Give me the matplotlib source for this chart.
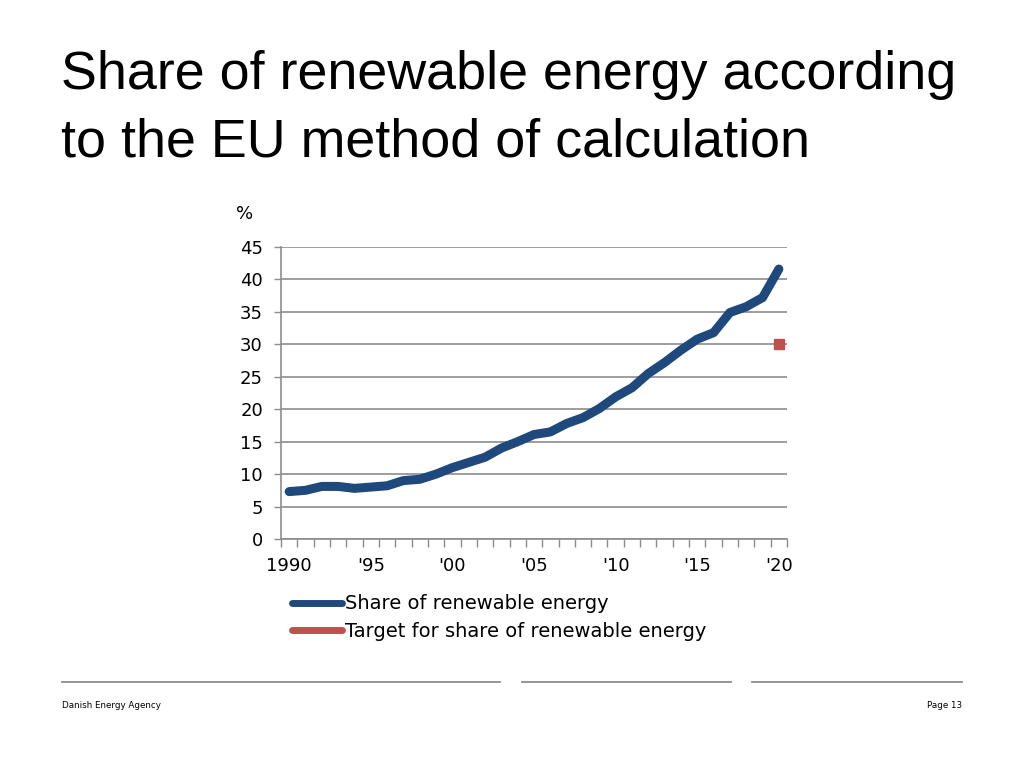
import matplotlib.pyplot as plt
from matplotlib.lines import Line2D
import numpy as np

# data
years = list(range(1990, 2021))
share = [7.3, 7.5, 8.1, 8.1, 7.8, 8.0, 8.2, 9.0, 9.2, 10.0,
         11.0, 11.8, 12.6, 14.0, 15.0, 16.1, 16.5, 17.8, 18.7, 20.1,
         21.9, 23.3, 25.5, 27.2, 29.1, 30.8, 31.8, 34.9, 35.8, 37.2,
         41.6]
target_year = [2020]
target = [30]
tick_years = [1990, 1995, 2000, 2005, 2010, 2015, 2020]
tick_labels = ["1990", "'95", "'00", "'05", "'10", "'15", "'20"]

blue = "#1F497D"
red = "#C0504D"
grey = "#8C8C8C"

fig = plt.figure(figsize=(10.24, 7.68), dpi=100)

# slide title
fig.text(0.060, 0.902, "Share of renewable energy according", fontsize=38.8,
         family="Liberation Sans", va="center", ha="left")
fig.text(0.060, 0.815, "to the EU method of calculation", fontsize=38.8,
         family="Liberation Sans", va="center", ha="left")

ax = fig.add_axes([0.2744, 0.2982, 0.4942, 0.3802])
ax.plot(years, share, color=blue, lw=6.5, solid_capstyle="round",
        solid_joinstyle="round")
ax.plot(target_year, target, ls="none", marker="s", ms=7, color=red)

ax.set_xlim(1989.5, 2020.5)
ax.set_ylim(0, 45)
ax.set_yticks(np.arange(0, 46, 5))
ax.yaxis.grid(True, color=grey, lw=1.2)
ax.set_axisbelow(True)

ax.set_xticks(tick_years)
ax.set_xticklabels(tick_labels)
ax.set_xticks(np.arange(1989.5, 2021, 1), minor=True)
ax.tick_params(axis="x", which="major", length=0, pad=13, labelsize=13)
ax.tick_params(axis="x", which="minor", length=6, width=1, color=grey, direction="out")
ax.tick_params(axis="y", length=5, width=1, color=grey, pad=8, labelsize=13)

for s in ["top", "right"]:
    ax.spines[s].set_visible(False)
for s in ["left", "bottom"]:
    ax.spines[s].set_color(grey)
    ax.spines[s].set_linewidth(1.2)

fig.text(0.2305, 0.722, "%", fontsize=13, ha="left", va="center")

handles = [Line2D([], [], color=blue, lw=5, solid_capstyle="round"),
           Line2D([], [], color=red, lw=5, solid_capstyle="round")]
fig.legend(handles, ["Share of renewable energy",
                     "Target for share of renewable energy"],
           loc="upper left", bbox_to_anchor=(0.285, 0.226), frameon=False,
           fontsize=14, handlelength=2.6, handletextpad=0.15,
           labelspacing=0.45, borderpad=0, borderaxespad=0)

# footer
for x0, x1 in [(62, 500), (522, 731), (752, 962)]:
    fig.add_artist(Line2D([x0 / 1024, x1 / 1024], [1 - 682 / 768] * 2,
                          color=grey, lw=1.3))
fig.text(62 / 1024, 1 - 706 / 768, "Danish Energy Agency", fontsize=6.3,
         family="Liberation Sans Narrow", va="center", ha="left")
fig.text(962 / 1024, 1 - 706 / 768, "Page 13", fontsize=6.3,
         family="Liberation Sans Narrow", va="center", ha="right")

fig.savefig("out.png", dpi=100)
